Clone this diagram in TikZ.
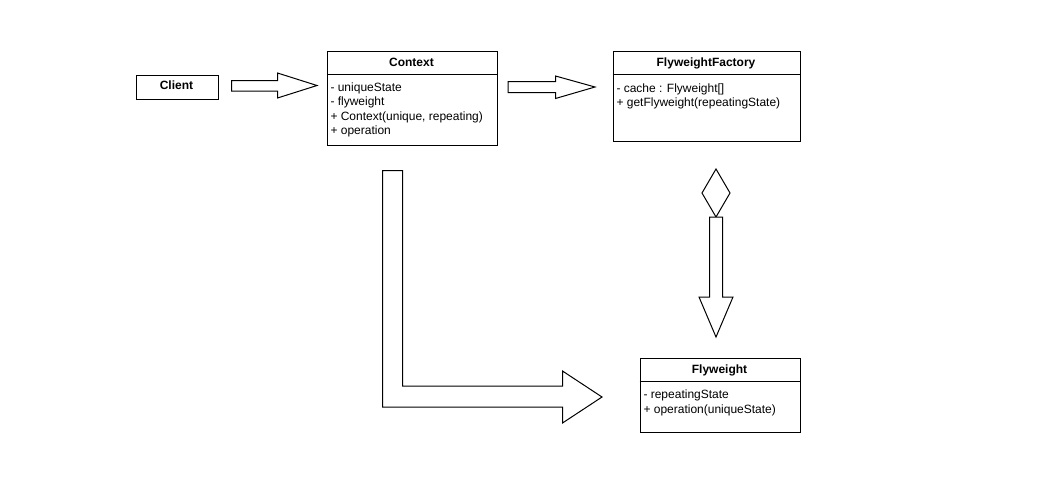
\documentclass[tikz,border=0pt]{standalone}
\usepackage{fontspec}
\setmainfont{Liberation Sans}
\begin{document}
\begin{tikzpicture}[x=1pt,y=-1pt,line width=1pt,
  umlbox/.style={draw=black,fill=white,line width=1pt,inner sep=0pt,anchor=north west},
  title/.style={inner sep=0pt,anchor=base,font=\fontsize{12}{14.4}\selectfont\bfseries},
  member/.style={inner sep=0pt,anchor=base west,font=\fontsize{12}{14.4}\selectfont},
  blockarrow/.style={draw=black,fill=white,line width=1pt,line join=miter}]
\useasboundingbox[fill=white] (0,0) rectangle (1055,483);

% Client
\node[umlbox,minimum width=82,minimum height=24] (client) at (135.5,74.5) {};
\node[title] (clientT) at (176.5,89.5) {Client};

% Context
\node[umlbox,minimum width=170,minimum height=94] (ctx) at (326.5,50.5) {};
\draw ([yshift=-24pt]ctx.north west) -- ([yshift=-24pt]ctx.north east);
\node[title] (ctxT) at (411.5,66) {Context};
\node[member] (ctx1) at (330,91) {- uniqueState};
\node[member] (ctx2) at (330,105.5) {- flyweight};
\node[member] (ctx3) at (330,120) {+ Context(unique, repeating)};
\node[member] (ctx4) at (330,134.5) {+ operation};

% FlyweightFactory
\node[umlbox,minimum width=187,minimum height=90] (fac) at (612.5,50.5) {};
\draw ([yshift=-24pt]fac.north west) -- ([yshift=-24pt]fac.north east);
\node[title] (facT) at (706,66) {FlyweightFactory};
\node[member] (fac1) at (616,92) {- cache : Flyweight[]};
\node[member] (fac2) at (616,106.5) {+ getFlyweight(repeatingState)};

% Flyweight
\node[umlbox,minimum width=160,minimum height=74] (fw) at (639.5,357.5) {};
\draw ([yshift=-24pt]fw.north west) -- ([yshift=-24pt]fw.north east);
\node[title] (fwT) at (719.5,373) {Flyweight};
\node[member] (fw1) at (643,398.5) {- repeatingState};
\node[member] (fw2) at (643,413) {+ operation(uniqueState)};

% block arrows
\draw[blockarrow] (231.5,80.5) -- (277.5,80.5) -- (277.5,73) -- (317,85.5) -- (277.5,98) -- (277.5,91) -- (231.5,91) -- cycle;
\draw[blockarrow] (508,81.5) -- (555.5,81.5) -- (555.5,76) -- (595,87) -- (555.5,98.5) -- (555.5,92.5) -- (508,92.5) -- cycle;
\draw[blockarrow] (716,169) -- (730,193) -- (716,217) -- (702,193) -- cycle;
\draw[blockarrow] (709.5,217) -- (722.5,217) -- (722.5,297) -- (733,297) -- (716,337) -- (699,297) -- (709.5,297) -- cycle;
\draw[blockarrow] (382.5,170.5) -- (402.5,170.5) -- (402.5,386) -- (562.5,386) -- (562.5,371) -- (602,397) -- (562.5,423) -- (562.5,407) -- (382.5,407) -- cycle;
\end{tikzpicture}
\end{document}
